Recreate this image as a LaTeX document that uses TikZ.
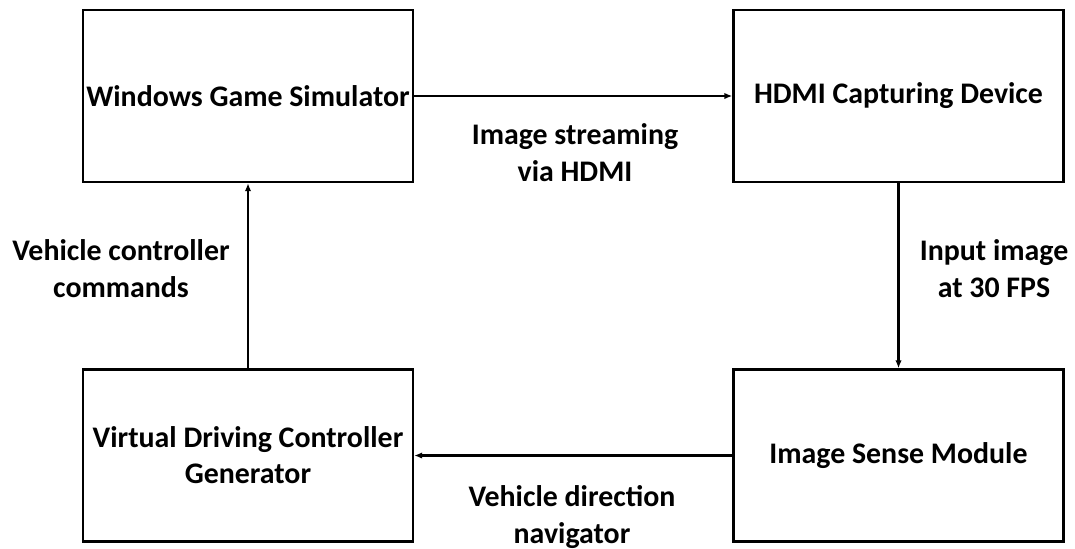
\documentclass[tikz,border=0pt]{standalone}
\usepackage{fontspec}
\setmainfont{Carlito}
\usetikzlibrary{arrows.meta}

\tikzset{
  block/.style={draw, line width=1.4pt, minimum width=6.6cm, minimum height=3.44cm,
    align=center, inner sep=0pt},
  flow/.style={line width=1.2pt, -{Latex[length=1.6mm,width=1.3mm]}},
  lbl/.style={align=center, anchor=base, inner sep=0pt}
}

\begin{document}
\begin{tikzpicture}[x=0.02cm, y=-0.02cm,
  font=\fontsize{17}{20.5}\selectfont\bfseries]
\useasboundingbox (0,0) rectangle (1075,548);

% the four blocks
\node [block] (wgs)  at (248,96)    {Windows Game Simulator};
\node [block] (hdmi) at (898.5,96)  {HDMI Capturing Device};
\node [block] (ism)  at (898.5,455.5) {Image Sense Module};
\node [block] (vdcg) at (248,455.5) {Virtual Driving Controller\\Generator};

% connections round the loop
\draw [flow] (wgs) -- (hdmi);
\draw [flow] (hdmi) -- (ism);
\draw [flow] (ism) -- (vdcg);
\draw [flow] (vdcg) -- (wgs);

% what travels on each link (base = last line)
\node [lbl] (stream) at (575,181) {Image streaming\\via HDMI};
\node [lbl] (input)  at (994,297) {Input image\\at 30 FPS};
\node [lbl] (navi)   at (572,543) {Vehicle direction\\navigator};
\node [lbl] (cmds)   at (121,297) {Vehicle controller\\commands};
\end{tikzpicture}
\end{document}
